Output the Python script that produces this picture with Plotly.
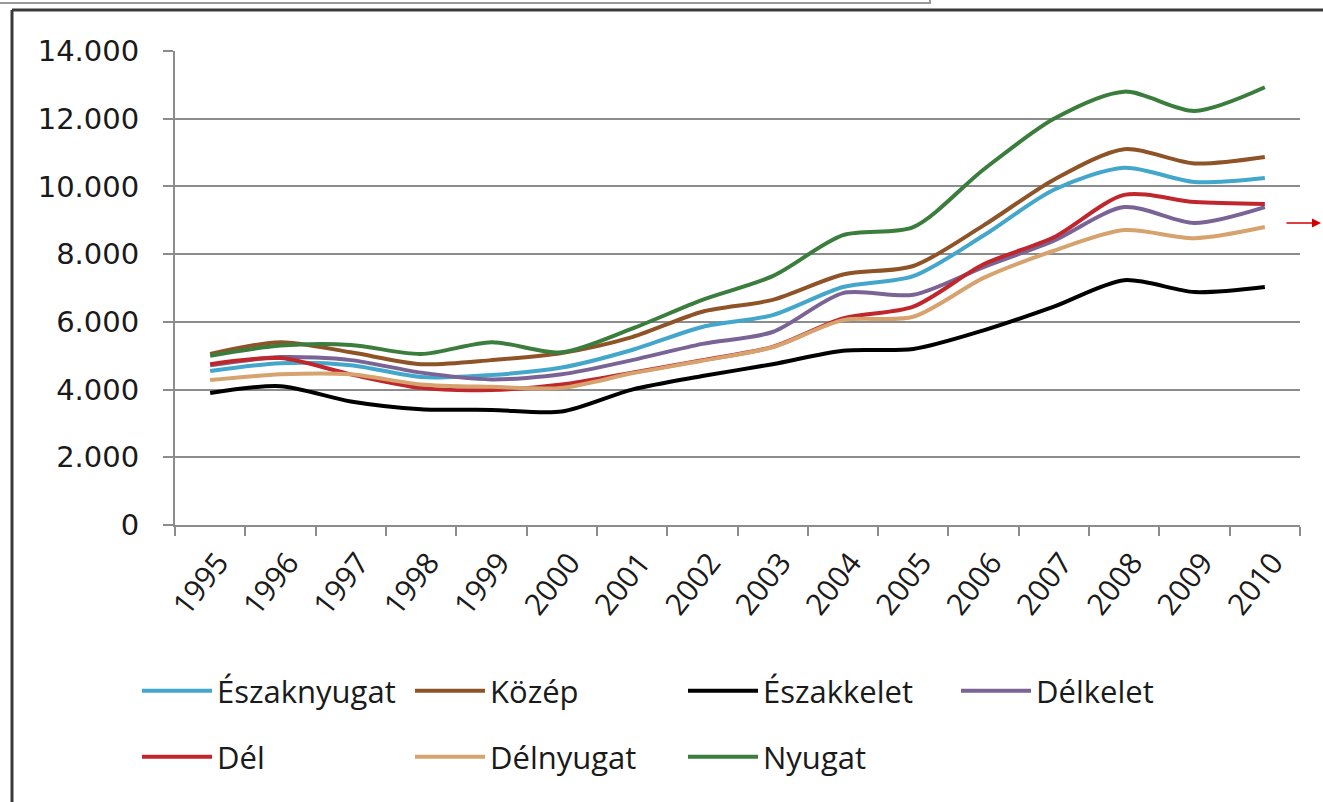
import plotly.graph_objects as go

years = ["1995", "1996", "1997", "1998", "1999", "2000", "2001", "2002",
         "2003", "2004", "2005", "2006", "2007", "2008", "2009", "2010"]

eszaknyugat = [4550, 4780, 4720, 4370, 4430, 4650, 5170, 5850, 6200, 7030, 7350, 8550, 9900, 10550, 10130, 10250]
kozep = [5050, 5400, 5100, 4750, 4870, 5080, 5550, 6300, 6650, 7400, 7650, 8850, 10200, 11100, 10680, 10870]
eszakkelet = [3900, 4100, 3650, 3420, 3400, 3350, 4000, 4400, 4750, 5150, 5200, 5750, 6450, 7230, 6880, 7030]
delkelet = [4720, 4960, 4870, 4500, 4300, 4450, 4870, 5350, 5700, 6850, 6800, 7620, 8400, 9390, 8920, 9390]
del_ = [4750, 4930, 4450, 4050, 3990, 4150, 4500, 4870, 5260, 6100, 6450, 7700, 8500, 9750, 9540, 9480]
delnyugat = [4280, 4450, 4450, 4150, 4080, 4050, 4480, 4850, 5250, 6050, 6150, 7300, 8100, 8710, 8470, 8800]
nyugat = [5000, 5300, 5320, 5050, 5400, 5100, 5800, 6650, 7350, 8560, 8800, 10500, 12000, 12800, 12230, 12930]

series_names = ["Északnyugat", "Közép", "Északkelet", "Délkelet", "Dél", "Délnyugat", "Nyugat"]
series_values = [eszaknyugat, kozep, eszakkelet, delkelet, del_, delnyugat, nyugat]
series_colors = ["#43A6CB", "#8E5427", "#000000", "#7A6495", "#C0272D", "#D6A26E", "#3A7D3C"]
series_legend = ["legend", "legend", "legend", "legend", "legend2", "legend2", "legend2"]

W, H = 1323, 802
L, R, T, B = 175, 23, 51, 277
PW = W - L - R
PH = H - T - B


def px_x(p):
    return (p - L) / PW


def px_y(p):
    return (H - B - p) / PH


fig = go.Figure()
for name, vals, col, lg in zip(series_names, series_values, series_colors, series_legend):
    fig.add_trace(go.Scatter(
        x=years, y=vals, name=name, mode="lines",
        line=dict(color=col, width=4, shape="spline", smoothing=0.8),
        legend=lg,
    ))

axis_col = "#8c8c8c"
legend_common = dict(
    orientation="h", xanchor="left", yanchor="middle",
    font=dict(family="Open Sans", size=31, color="#1a1a1a"),
    itemwidth=70, entrywidth=188, entrywidthmode="pixels",
    bgcolor="rgba(0,0,0,0)", traceorder="normal",
)

fig.update_layout(
    width=W, height=H,
    margin=dict(l=L, r=R, t=T, b=B, autoexpand=False),
    paper_bgcolor="white", plot_bgcolor="white",
    separators=",.",
    showlegend=True,
    legend=dict(x=px_x(137), y=px_y(691), **legend_common),
    legend2=dict(x=px_x(137), y=px_y(757), **legend_common),
    xaxis=dict(
        type="category", range=[-0.5, 15.5],
        showgrid=False, showline=True, linecolor=axis_col, linewidth=2,
        ticks="outside", tickson="boundaries", ticklen=9, tickcolor=axis_col, tickwidth=2,
        tickangle=-52, ticklabelshift=8, ticklabelstandoff=6,
        tickfont=dict(family="Open Sans", size=30, color="#1a1a1a"),
    ),
    yaxis=dict(
        range=[0, 14000], dtick=2000, tickformat=",d",
        showgrid=True, gridcolor=axis_col, gridwidth=2,
        showline=True, linecolor=axis_col, linewidth=2,
        ticks="outside", ticklen=10, tickcolor=axis_col, tickwidth=2,
        zeroline=False, ticklabelstandoff=18,
        tickfont=dict(family="DejaVu Sans", size=29, color="#1a1a1a"),
    ),
    shapes=[
        # outer chart frame (left and top edges)
        dict(type="line", xref="paper", yref="paper",
             x0=px_x(12), x1=px_x(12), y0=px_y(10), y1=px_y(810),
             line=dict(color="#3a3a3a", width=3)),
        dict(type="line", xref="paper", yref="paper",
             x0=px_x(12), x1=px_x(1330), y0=px_y(10), y1=px_y(10),
             line=dict(color="#3a3a3a", width=3)),
        # box remnant at the top
        dict(type="line", xref="paper", yref="paper",
             x0=px_x(0), x1=px_x(930), y0=px_y(3), y1=px_y(3),
             line=dict(color="#9a9a9a", width=2)),
        dict(type="line", xref="paper", yref="paper",
             x0=px_x(930), x1=px_x(930), y0=px_y(-2), y1=px_y(4),
             line=dict(color="#9a9a9a", width=2)),
    ],
    annotations=[
        dict(xref="paper", yref="paper", x=px_x(1321), y=px_y(223),
             ax=-36, ay=0, text="", showarrow=True,
             arrowhead=2, arrowsize=1.2, arrowwidth=1.5, arrowcolor="#d00000"),
    ],
)

fig.write_html("out.html", config={"displayModeBar": False},
               post_script="document.body.style.margin='0';")
